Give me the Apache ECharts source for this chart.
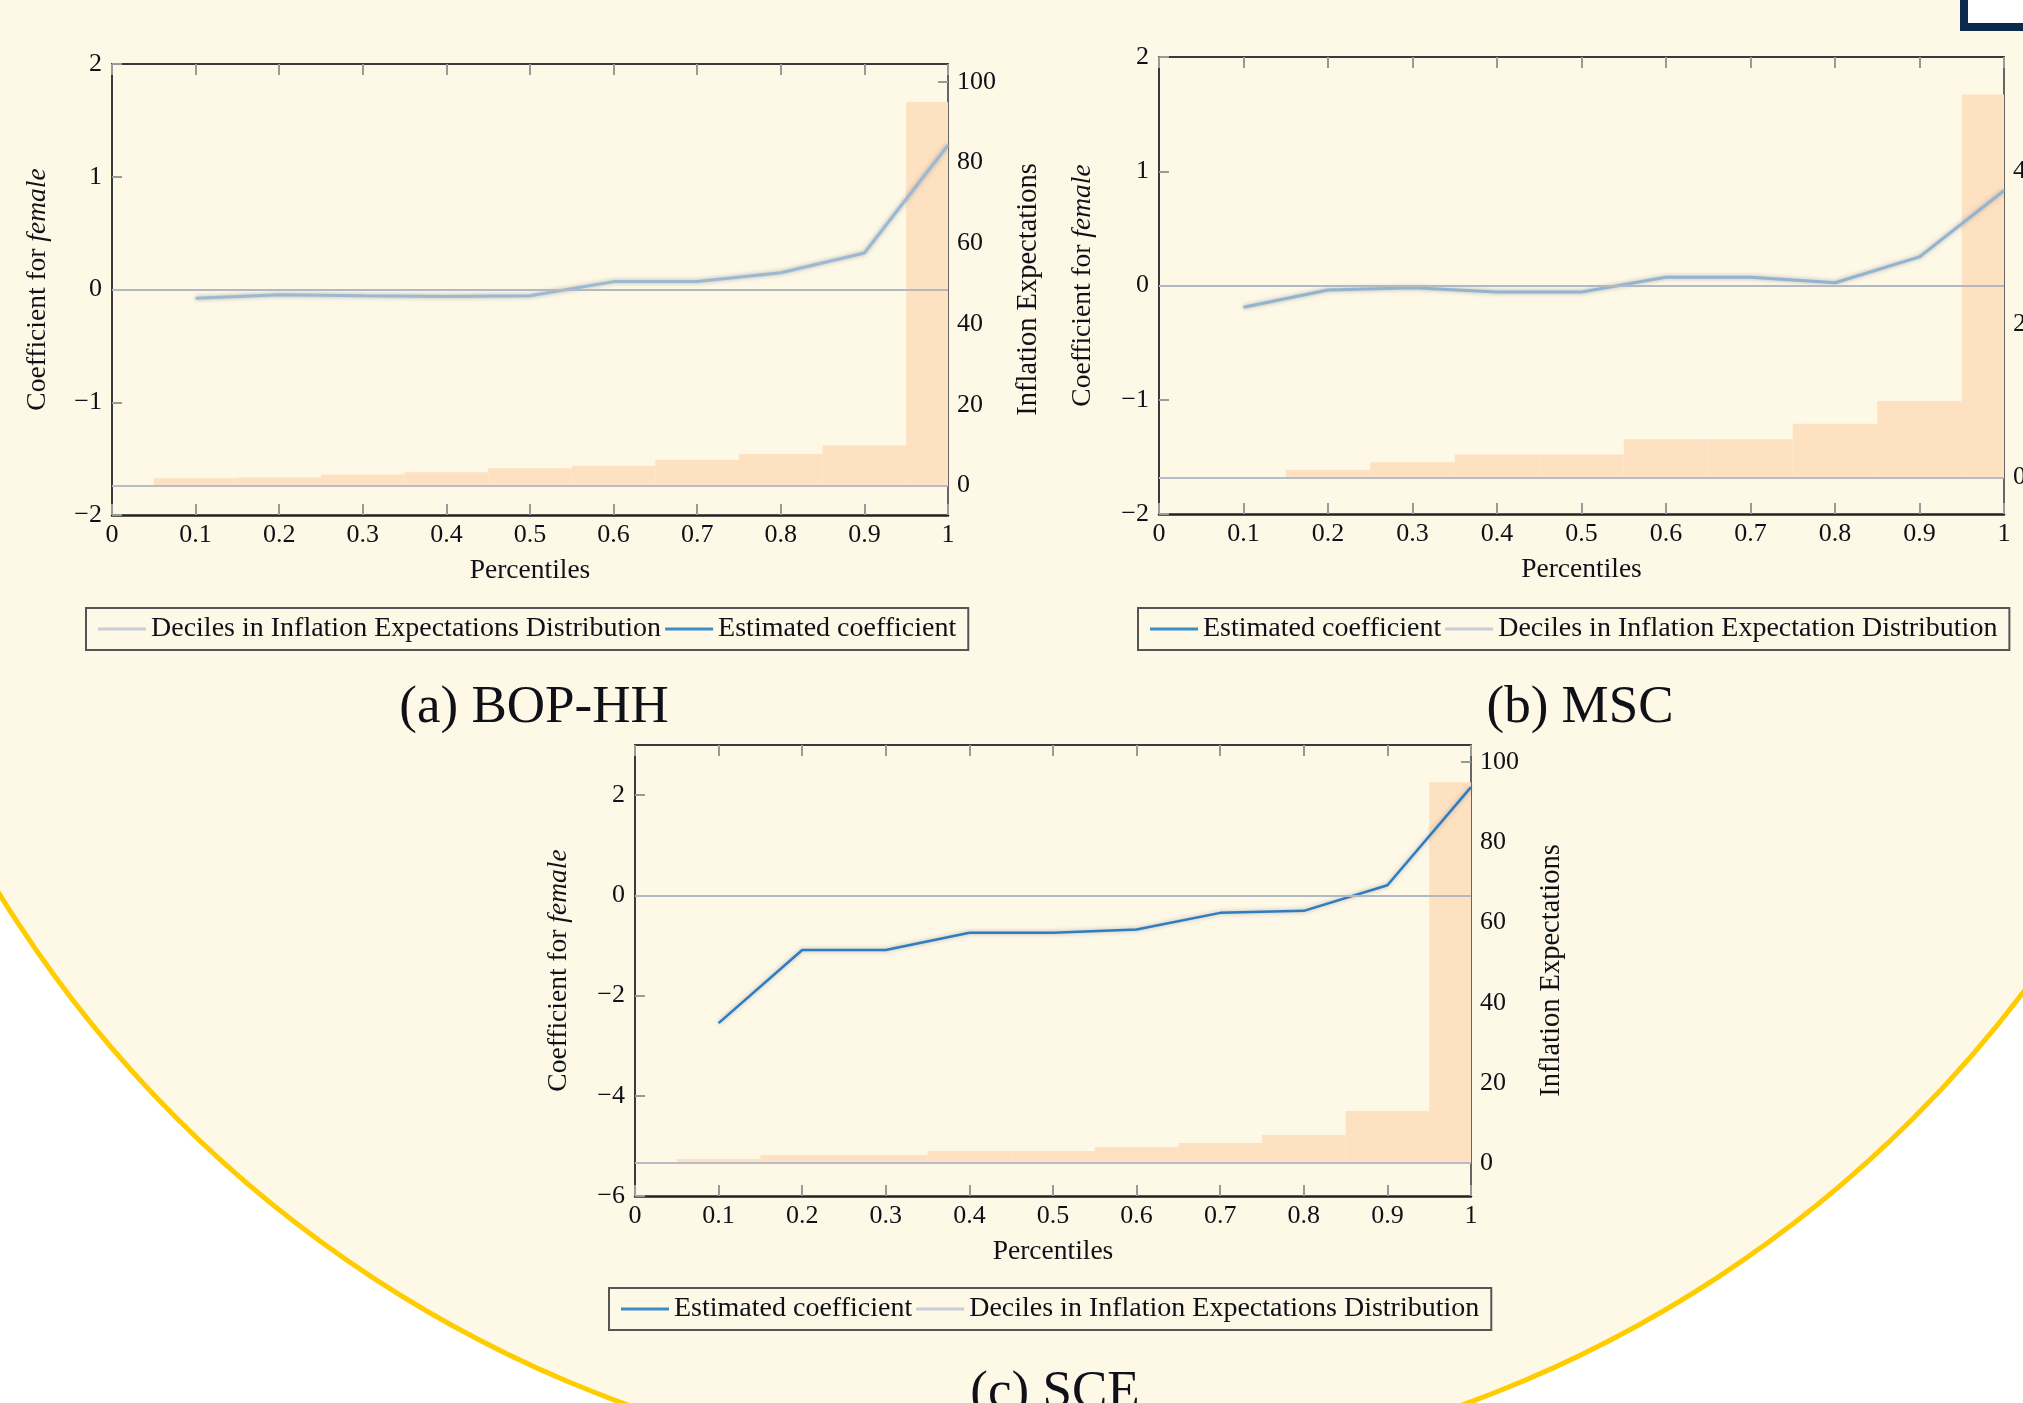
<!DOCTYPE html>
<html>
<head>
<meta charset="utf-8">
<script src="https://cdn.jsdelivr.net/npm/echarts@6/dist/echarts.min.js"></script>
<style>
  html, body { margin: 0; padding: 0; background: #fff; }
  #main { width: 2023px; height: 1403px; }
</style>
</head>
<body>
<div id="main"></div>
<script>
// 图表实例
var myChart = echarts.init(document.getElementById('main'));

var FONT = '"Liberation Serif", "DejaVu Serif", serif';
var TEXT = '#101018';
var PEACH = '#fde1c0';

// 数据：百分位
var percentiles = [0.1, 0.2, 0.3, 0.4, 0.5, 0.6, 0.7, 0.8, 0.9, 1.0];

// (a) BOP-HH
var bopCoef = [-0.077, -0.046, -0.056, -0.063, -0.056, 0.07, 0.07, 0.148, 0.324, 1.28];
var bopDeciles = [1.8, 2, 2.7, 3.3, 4.3, 4.9, 6.4, 7.8, 10, 95];

// (b) MSC
var mscCoef = [-0.19, -0.04, -0.02, -0.056, -0.056, 0.072, 0.072, 0.024, 0.25, 0.83];
var mscDeciles = [0, 1, 2, 3, 3, 5, 5, 7, 10, 50];

// (c) SCE
var sceCoef = [-2.55, -1.09, -1.09, -0.745, -0.745, -0.68, -0.35, -0.31, 0.2, 2.16];
var sceDeciles = [1, 2, 2, 3, 3, 4, 5, 7, 13, 95];

// 刻度
var coefTicksAB = [-2, -1, 0, 1, 2];
var coefTicksC = [-6, -4, -2, 0, 2];
var inflTicksAC = [0, 20, 40, 60, 80, 100];
var inflTicksB = [0, 20, 40];

var NAME_COEF = 'Estimated coefficient';
var NAME_DEC = 'Deciles in Inflation Expectations Distribution';
var NAME_DEC_B = 'Deciles in Inflation Expectation Distribution';

var panels = [
    {
        grid: { left: 112, top: 64, width: 836, height: 451 },
        coef: bopCoef, dec: bopDeciles, decName: NAME_DEC,
        coefMin: -2, coefMax: 2, coefTicks: coefTicksAB,
        inflMin: -7.3, inflMax: 104.4, inflTicks: inflTicksAC,
        rightName: 'Inflation Expectations',
        lineColor: '#9cb9d2', lineWidth: 3,
        leftGap: 60, rightGap: 66,
        legend: { left: 86, top: 608 }, legendOrder: [NAME_DEC, NAME_COEF]
    },
    {
        grid: { left: 1159, top: 57, width: 845, height: 457 },
        coef: mscCoef, dec: mscDeciles, decName: NAME_DEC_B,
        coefMin: -2, coefMax: 2, coefTicks: coefTicksAB,
        inflMin: -4.77, inflMax: 54.9, inflTicks: inflTicksB,
        rightName: '',
        lineColor: '#93b4d0', lineWidth: 3,
        leftGap: 62, rightGap: 66,
        legend: { left: 1138, top: 608 }, legendOrder: [NAME_COEF, NAME_DEC_B]
    },
    {
        grid: { left: 635, top: 745, width: 836, height: 451 },
        coef: sceCoef, dec: sceDeciles, decName: NAME_DEC,
        coefMin: -6, coefMax: 3, coefTicks: coefTicksC,
        inflMin: -8.2, inflMax: 104.3, inflTicks: inflTicksAC,
        rightName: 'Inflation Expectations',
        lineColor: '#2f7cc0', lineWidth: 2.5,
        leftGap: 62, rightGap: 66,
        legend: { left: 609, top: 1288 }, legendOrder: [NAME_COEF, NAME_DEC]
    }
];

var legendColors = {};
legendColors[NAME_COEF] = '#3b8ccc';
legendColors[NAME_DEC] = '#c8cdd5';
legendColors[NAME_DEC_B] = '#c8cdd5';

function minus(v) {
    return String(v).replace('-', '\u2212');
}

// 每个分位柱覆盖 ±0.05，最后一根在 1 处被裁掉
function renderDecile(params, api) {
    var x = api.value(0), v = api.value(1);
    var p0 = api.coord([x - 0.05, 0]);
    var p1 = api.coord([x + 0.05, v]);
    var rect = echarts.graphic.clipRectByRect({
        x: p0[0], y: p1[1], width: p1[0] - p0[0], height: p0[1] - p1[1]
    }, {
        x: params.coordSys.x, y: params.coordSys.y,
        width: params.coordSys.width, height: params.coordSys.height
    });
    return rect && { type: 'rect', shape: rect, style: { fill: PEACH } };
}

var tickStyle = { color: '#9a9a9a', width: 2 };
var frameStyle = { color: '#3a3a3a', width: 2 };
var labelStyle = { fontFamily: FONT, fontSize: 26, color: TEXT };

var grids = [], xAxes = [], yAxes = [], series = [], legends = [];

panels.forEach(function (p, g) {
    grids.push(Object.assign({ outerBoundsMode: 'none', containLabel: false }, p.grid));

    // 下方 x 轴
    xAxes.push({
        type: 'value', gridIndex: g, position: 'bottom',
        min: 0, max: 1, interval: 0.1,
        name: 'Percentiles', nameLocation: 'middle', nameGap: 42,
        nameTextStyle: { fontFamily: FONT, fontSize: 27.5, color: TEXT },
        axisLine: { show: true, onZero: false, lineStyle: { color: '#222', width: 2.5 } },
        axisTick: { show: true, inside: true, length: 11, lineStyle: tickStyle },
        axisLabel: Object.assign({ margin: 7, formatter: function (v) { return String(Math.round(v * 10) / 10); } }, labelStyle),
        splitLine: { show: false }
    });
    // 上方镜像刻度
    xAxes.push({
        type: 'value', gridIndex: g, position: 'top',
        min: 0, max: 1, interval: 0.1,
        axisLine: { show: true, onZero: false, lineStyle: frameStyle },
        axisTick: { show: true, inside: true, length: 11, lineStyle: tickStyle },
        axisLabel: { show: false },
        splitLine: { show: false }
    });

    // 左轴：系数
    yAxes.push({
        type: 'value', gridIndex: g, position: 'left',
        min: p.coefMin, max: p.coefMax,
        name: 'Coefficient for {i|female}', nameLocation: 'middle', nameRotate: 90, nameGap: p.leftGap,
        nameTextStyle: {
            fontFamily: FONT, fontSize: 27.5, color: TEXT,
            rich: { i: { fontFamily: FONT, fontSize: 27.5, fontStyle: 'italic', color: TEXT } }
        },
        axisLine: { show: true, onZero: false, lineStyle: frameStyle },
        axisTick: { show: true, inside: true, length: 10, customValues: p.coefTicks, lineStyle: tickStyle },
        axisLabel: Object.assign({ margin: 10, customValues: p.coefTicks, formatter: minus }, labelStyle),
        splitLine: { show: false }
    });
    // 右轴：通胀预期
    yAxes.push({
        type: 'value', gridIndex: g, position: 'right',
        min: p.inflMin, max: p.inflMax,
        name: p.rightName, nameLocation: 'middle', nameRotate: 90, nameGap: p.rightGap,
        nameTextStyle: { fontFamily: FONT, fontSize: 28.5, color: TEXT },
        axisLine: { show: true, onZero: false, lineStyle: { color: '#666', width: 2 } },
        axisTick: { show: true, inside: true, length: 10, customValues: p.inflTicks, lineStyle: tickStyle },
        axisLabel: Object.assign({ margin: 9, customValues: p.inflTicks }, labelStyle),
        splitLine: { show: false }
    });

    // 分位柱
    series.push({
        type: 'custom', name: p.decName,
        xAxisIndex: 2 * g, yAxisIndex: 2 * g + 1,
        data: percentiles.map(function (x, i) { return [x, p.dec[i]]; }),
        encode: { x: 0, y: 1 },
        renderItem: renderDecile,
        silent: true, z: 1,
        itemStyle: { color: PEACH },
        markLine: {
            silent: true, symbol: 'none', label: { show: false },
            lineStyle: { color: '#b7bcc6', width: 2, type: 'solid' },
            data: [{ yAxis: 0 }]
        }
    });
    // 估计系数
    series.push({
        type: 'line', name: NAME_COEF,
        xAxisIndex: 2 * g, yAxisIndex: 2 * g,
        data: percentiles.map(function (x, i) { return [x, p.coef[i]]; }),
        symbol: 'none', silent: true, z: 3,
        lineStyle: {
            color: p.lineColor, width: p.lineWidth,
            shadowColor: 'rgba(110,120,140,0.55)', shadowBlur: 4
        },
        markLine: {
            silent: true, symbol: 'none', label: { show: false },
            lineStyle: { color: '#b4b8c0', width: 2, type: 'solid' },
            data: [{ yAxis: 0 }]
        }
    });

    legends.push({
        left: p.legend.left, top: p.legend.top,
        selectedMode: false,
        borderColor: '#555', borderWidth: 2,
        padding: [7, 12, 7, 12], itemGap: 4,
        icon: 'rect', itemWidth: 48, itemHeight: 3,
        textStyle: { fontFamily: FONT, fontSize: 28, color: TEXT },
        data: p.legendOrder.map(function (n) {
            return { name: n, itemStyle: { color: legendColors[n] } };
        })
    });
});

function caption(text, x, y) {
    return {
        type: 'text', x: x, y: y, silent: true,
        style: {
            text: text, fontFamily: FONT, fontSize: 53, fill: TEXT,
            align: 'center', verticalAlign: 'middle'
        }
    };
}

var option = {
    backgroundColor: '#ffffff',
    animation: false,
    graphic: [
        {
            type: 'circle', z: -10, silent: true,
            shape: { cx: 1045, cy: 250, r: 1228 },
            style: { fill: '#fef8e6', stroke: '#ffcc00', lineWidth: 5 }
        },
        {
            type: 'rect', z: 10, silent: true,
            shape: { x: 1964, y: -20, width: 120, height: 47 },
            style: { fill: '#ffffff', stroke: '#0c2a4b', lineWidth: 8 }
        },
        caption('(a) BOP-HH', 534, 708),
        caption('(b) MSC', 1580, 708),
        caption('(c) SCE', 1055, 1393)
    ],
    grid: grids,
    xAxis: xAxes,
    yAxis: yAxes,
    legend: legends,
    series: series
};

myChart.setOption(option);
</script>
</body>
</html>
